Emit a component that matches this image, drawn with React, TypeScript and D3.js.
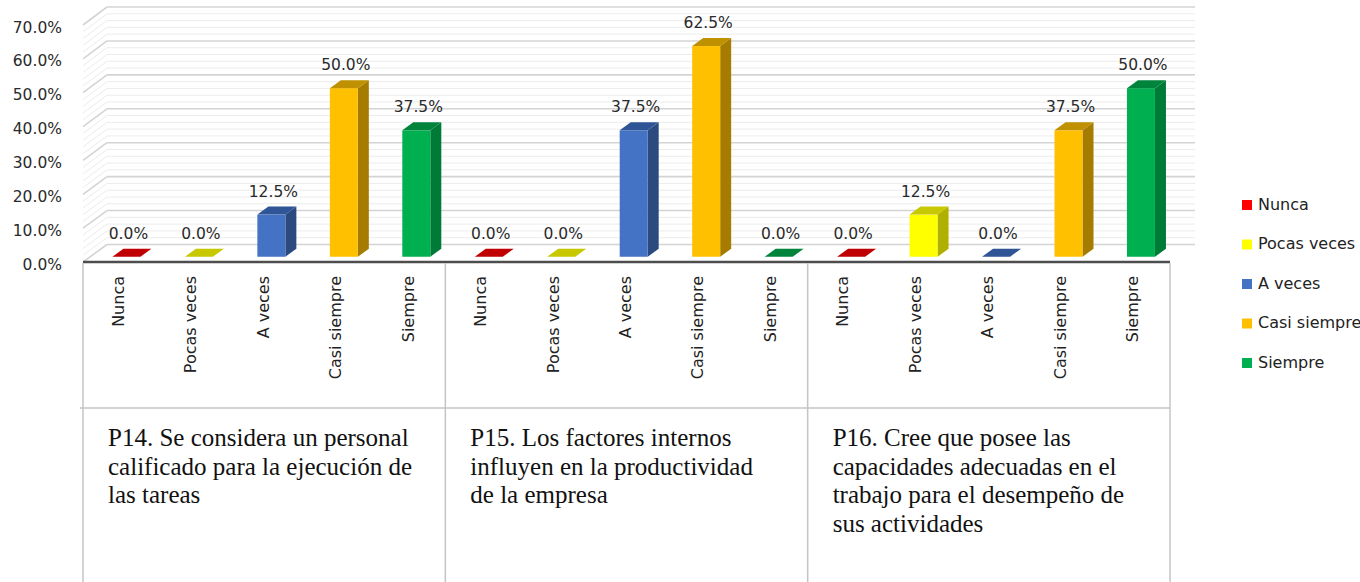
import React from "react";
import * as d3 from "d3";

const categories = ["Nunca", "Pocas veces", "A veces", "Casi siempre", "Siempre"];
const p14 = [0, 0, 12.5, 50, 37.5];
const p15 = [0, 0, 37.5, 62.5, 0];
const p16 = [0, 12.5, 0, 37.5, 50];
const groupValues = [p14, p15, p16];
const groupTitles = [
  ["P14. Se considera un personal", "calificado para la ejecución de", "las tareas"],
  ["P15. Los factores internos", "influyen en la productividad", "de la empresa"],
  ["P16. Cree que posee las", "capacidades adecuadas en el", "trabajo para el desempeño de", "sus actividades"],
];
const yTicks = [0, 10, 20, 30, 40, 50, 60, 70];

// front, top, side colours per category
const colors = [
  ["#FF0000", "#C00000", "#A00000"],
  ["#FFFF00", "#C8C800", "#B0B000"],
  ["#4472C4", "#2F5597", "#2B4A80"],
  ["#FFC000", "#BF9000", "#A67C00"],
  ["#00B050", "#00843C", "#007A37"],
];

const W = 1360;
const H = 582;
const x0 = 83;
const x1 = 1170;
const floorY = 262;
const depthX = 24;
const depthY = -17.5;
const font = "DejaVu Sans, sans-serif";

export default function App() {
  const slots = d3.range(groupValues.length * categories.length);
  const x = d3.scaleBand<number>().domain(slots).range([x0, x1]).padding(0);
  const bw = x.bandwidth();

  // front and back wall scales
  const yFront = d3.scaleLinear().domain([0, 70]).range([floorY, 25]);
  const yBack = d3.scaleLinear().domain([0, 70]).range([floorY + depthY, 7]);
  // bar height scale
  const h = d3.scaleLinear().domain([0, 70]).range([0, 236]);

  const minor = d3.range(0, 70.001, 2);

  const barPos = 0.3;
  const barBaseY = floorY + depthY * barPos;
  const barShift = depthX * barPos;
  const barW = 28;
  const bdx = 11;
  const bdy = -8;

  const bars = groupValues.flatMap((vals, g) =>
    vals.map((v, c) => ({ v, c, slot: g * categories.length + c }))
  );

  const groupEdges = d3.range(groupValues.length + 1).map((g) =>
    g < groupValues.length ? x(g * categories.length)! : x1
  );

  return (
    <div style={{ position: "fixed", left: 0, top: 0 }}>
      <svg width={W} height={H} style={{ display: "block", background: "#fff" }}>
        {/* back wall and side wall gridlines */}
        <g>
          {minor.map((v) => {
            const major = v % 10 === 0;
            const stroke = major ? "#d4d4d4" : "#ececec";
            const sw = major ? 1.6 : 1;
            return (
              <g key={v}>
                <line x1={x0 + depthX} x2={x1 + depthX + 1} y1={yBack(v)} y2={yBack(v)} stroke={stroke} strokeWidth={sw} />
                <line x1={x0} x2={x0 + depthX} y1={yFront(v)} y2={yBack(v)} stroke={stroke} strokeWidth={sw} />
              </g>
            );
          })}
        </g>

        {/* bars */}
        <g>
          {bars.map((b) => {
            const left = x(b.slot)! + bw / 2 + barShift - barW / 2;
            const right = left + barW;
            const top = barBaseY - h(b.v);
            const [front, topC, side] = colors[b.c];
            const topPath = `M${left},${top}L${right},${top}L${right + bdx},${top + bdy}L${left + bdx},${top + bdy}Z`;
            const sidePath = `M${right},${barBaseY}L${right + bdx},${barBaseY + bdy}L${right + bdx},${top + bdy}L${right},${top}Z`;
            return (
              <g key={b.slot}>
                {b.v > 0 && <path d={sidePath} fill={side} />}
                {b.v > 0 && <rect x={left} y={top} width={barW} height={h(b.v)} fill={front} />}
                <path d={topPath} fill={topC} />
                <text
                  x={left + barW / 2 + 2}
                  y={top + bdy - 10}
                  textAnchor="middle"
                  fontFamily={font}
                  fontSize={15.5}
                  fill="#2a2a2a"
                >
                  {d3.format(".1f")(b.v) + "%"}
                </text>
              </g>
            );
          })}
        </g>

        {/* floor front edge */}
        <line x1={x0} x2={x1} y1={floorY} y2={floorY} stroke="#4d4d4d" strokeWidth={2.5} />

        {/* y axis labels */}
        <g>
          {yTicks.map((t) => (
            <text
              key={t}
              x={62}
              y={yFront(t) + 3}
              textAnchor="end"
              dominantBaseline="middle"
              fontFamily={font}
              fontSize={15.5}
              fill="#2a2a2a"
            >
              {d3.format(".1f")(t) + "%"}
            </text>
          ))}
        </g>

        {/* category table */}
        <g stroke="#c4c4c4" strokeWidth={1.5}>
          {groupEdges.map((gx, i) => (
            <line key={i} x1={gx} x2={gx} y1={floorY + 1} y2={H} />
          ))}
          <line x1={x0 - 3} x2={x1} y1={408} y2={408} />
        </g>
        <g>
          {slots.map((s) => (
            <text
              key={s}
              transform={`translate(${x(s)! + bw / 2},276) rotate(-90)`}
              textAnchor="end"
              dominantBaseline="middle"
              fontFamily={font}
              fontSize={16}
              fill="#222"
            >
              {categories[s % categories.length]}
            </text>
          ))}
        </g>
        <g>
          {groupTitles.map((lines, g) => (
            <text
              key={g}
              fontFamily="Liberation Serif, Times New Roman, serif"
              fontSize={25}
              fill="#111"
            >
              {lines.map((ln, i) => (
                <tspan key={i} x={groupEdges[g] + 25} y={446 + i * 28.7}>
                  {ln}
                </tspan>
              ))}
            </text>
          ))}
        </g>

        {/* legend */}
        <g>
          {categories.map((c, i) => (
            <g key={c} transform={`translate(1242,${205 + i * 39.5})`}>
              <rect x={0} y={-5} width={10} height={10} fill={colors[i][0]} />
              <text x={16} y={0} dominantBaseline="middle" fontFamily={font} fontSize={16} fill="#222">
                {c}
              </text>
            </g>
          ))}
        </g>
      </svg>
    </div>
  );
}
